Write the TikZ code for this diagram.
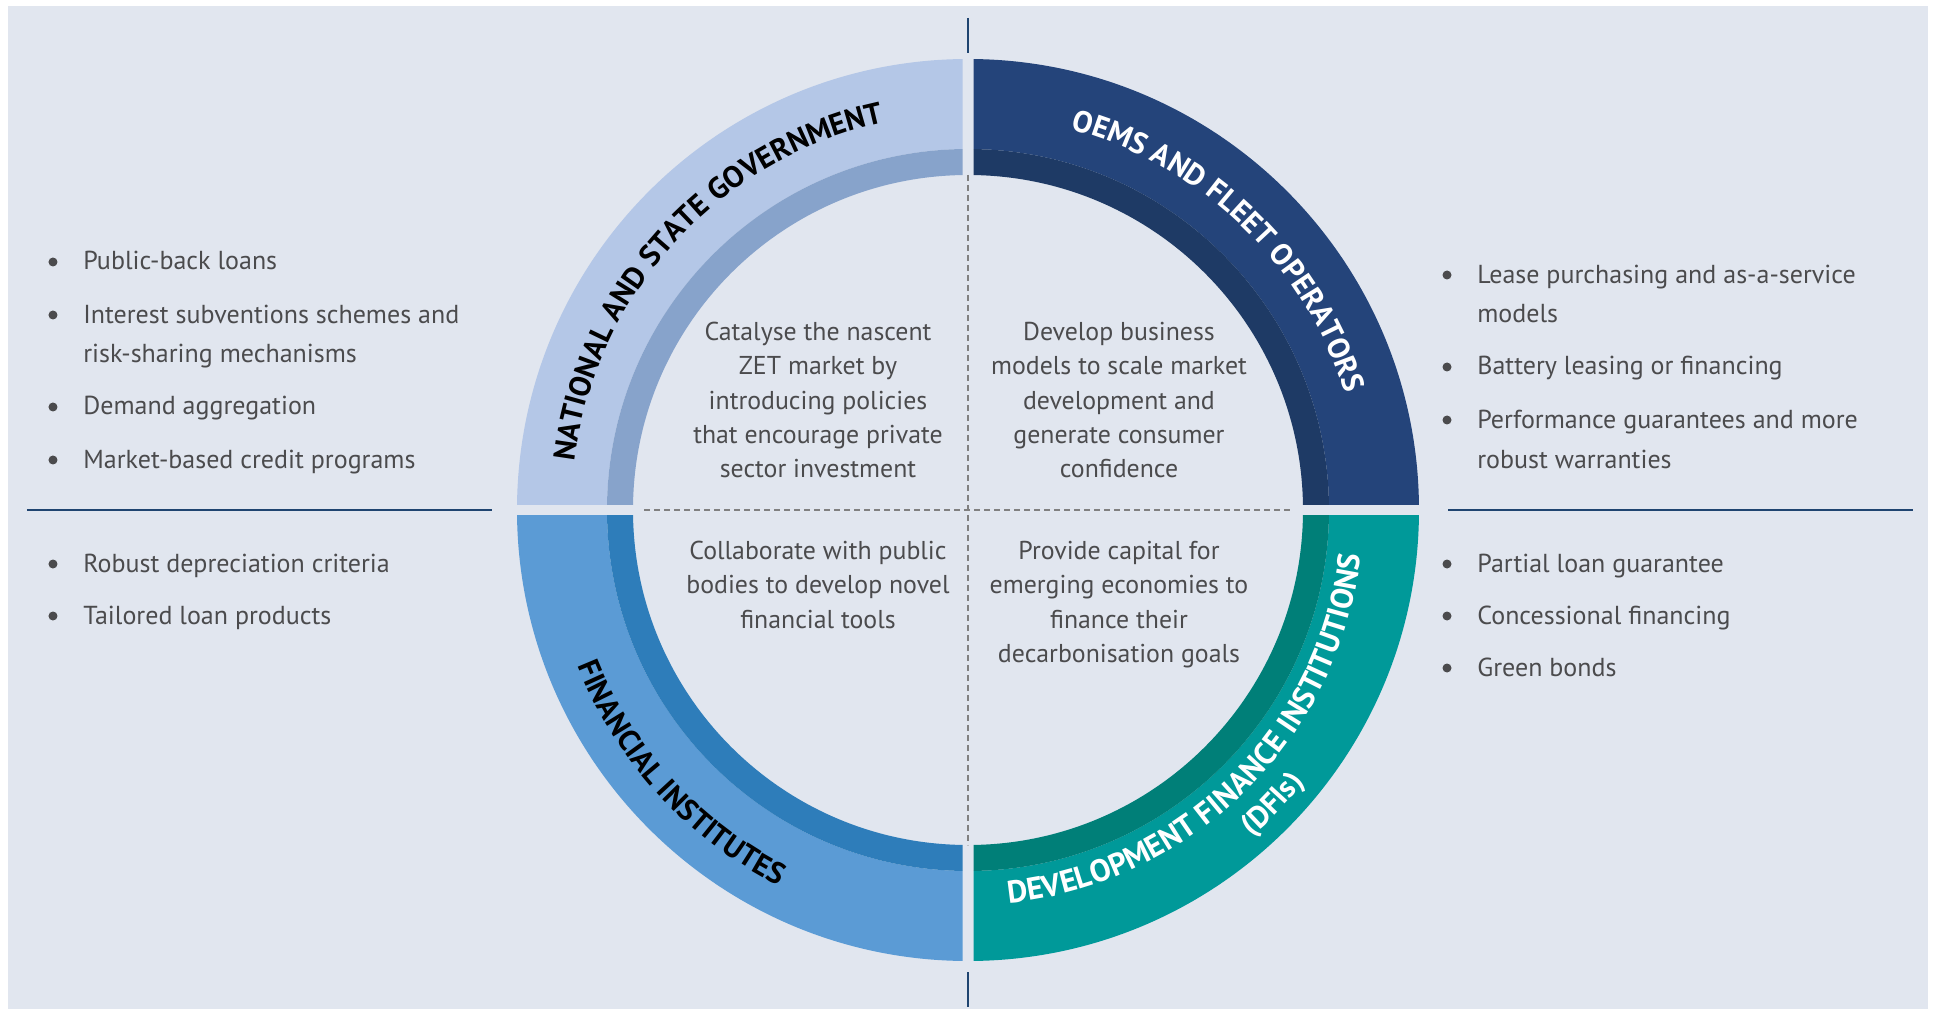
\documentclass[tikz,border=0pt]{standalone}
\usepackage{fontspec}
\setmainfont{PT Sans}
\usepackage{tikz}
\usetikzlibrary{decorations.text}
\definecolor{bg}{HTML}{E1E6EF}
\definecolor{ink}{HTML}{4B4B4D}
\definecolor{navy}{HTML}{1F4470}
\definecolor{dashgray}{HTML}{808080}
\definecolor{govOut}{HTML}{B4C7E7}
\definecolor{govIn}{HTML}{87A3CB}
\definecolor{oemOut}{HTML}{24447A}
\definecolor{oemIn}{HTML}{1E3A65}
\definecolor{finOut}{HTML}{5B9BD5}
\definecolor{finIn}{HTML}{2E7DBA}
\definecolor{dfiOut}{HTML}{009999}
\definecolor{dfiIn}{HTML}{007F78}
\newcommand{\bodyfont}{\fontsize{14.8}{22.76}\selectfont}
\newcommand{\midfont}{\fontsize{14.7}{19.63}\selectfont}
\newcommand{\ringfont}{\fontsize{17.2}{18}\selectfont\bfseries}
\newcommand{\dfifont}{\fontsize{17.8}{18}\selectfont\bfseries}
\tikzset{
  item/.style={font=\bodyfont, text=ink, align=left, inner sep=0pt, anchor=base west},
  dot/.style={circle, fill=ink, inner sep=0pt, minimum size=0.18cm},
  midtext/.style={font=\midfont, text=ink, align=center, inner sep=0pt, anchor=base},
  rulebar/.style={navy, line width=1.4pt},
  tick/.style={navy, line width=1.7pt},
  divider/.style={dashgray, line width=0.85pt, dash pattern=on 0.12cm off 0.08cm},
  ringlabel/.style={decorate, decoration={text along path, text align=center, text color=#1}}
}

\begin{document}
\begin{tikzpicture}[x=1cm, y=1cm]
  \useasboundingbox (-19.36,-9.98) rectangle (19.30,10.20);
  \fill[bg] (-19.20,-9.98) rectangle (19.20,10.08);

  % ring quadrants
  \foreach \sx/\sy/\co/\ci in {-1/1/govOut/govIn, 1/1/oemOut/oemIn, -1/-1/finOut/finIn, 1/-1/dfiOut/dfiIn}{
    \begin{scope}
      \clip (\sx*0.11,\sy*0.11) rectangle (\sx*9.6,\sy*9.6);
      \fill[\co, even odd rule] (0,0) circle (9.02) (0,0) circle (7.22);
      \fill[\ci, even odd rule] (0,0) circle (7.22) (0,0) circle (6.70);
    \end{scope}}

  % dividers inside the ring
  \coordinate (dtop) at (0,6.70);
  \coordinate (dbot) at (0,-6.70);
  \coordinate (dleft) at (-6.47,0);
  \coordinate (dright) at (6.48,0);
  \draw[divider] (dtop) -- (dbot);
  \draw[divider] (dleft) -- (dright);

  % ticks and side rules
  \coordinate (ttop) at (0,9.84);
  \coordinate (tbot) at (0,9.14);
  \coordinate (btop) at (0,-9.24);
  \coordinate (bbot) at (0,-9.94);
  \draw[tick] (ttop) -- (tbot);
  \draw[tick] (btop) -- (bbot);
  \coordinate (lr1) at (-18.82,0);
  \coordinate (lr2) at (-9.52,0);
  \coordinate (rr1) at (9.60,0);
  \coordinate (rr2) at (18.90,0);
  \draw[rulebar] (lr1) -- (lr2);
  \draw[rulebar] (rr1) -- (rr2);

  % ring labels
  \path[ringlabel=black, decoration={text={|\ringfont|NATIONAL AND STATE GOVERNMENT}}]
    (187.6:7.93) arc[start angle=187.6, end angle=87.6, radius=7.93];
  \path[ringlabel=white, decoration={text={|\ringfont|OEMS AND FLEET OPERATORS}}]
    (96:7.89) arc[start angle=96, end angle=-4, radius=7.89];
  \path[ringlabel=black, decoration={text={|\ringfont|FINANCIAL INSTITUTES}}]
    (172.5:8.41) arc[start angle=172.5, end angle=272.5, radius=8.41];
  \path[ringlabel=white, decoration={text={|\dfifont|DEVELOPMENT FINANCE INSTITUTIONS}}]
    (264.7:7.91) arc[start angle=264.7, end angle=364.7, radius=7.91];
  \path[ringlabel=white, decoration={text={|\ringfont|(DFIs)}}]
    (266:8.65) arc[start angle=266, end angle=366, radius=8.65];

  % quadrant texts (anchored at the last line)
  \node[midtext] (gov) at (-3.0,0.64) {Catalyse the nascent\\ZET market by\\introducing policies\\that encourage private\\sector investment};
  \node[midtext] (oem) at (3.02,0.64) {Develop business\\models to scale market\\development and\\generate consumer\\confidence};
  \node[midtext] (fin) at (-3.0,-2.36) {Collaborate with public\\bodies to develop novel\\financial tools};
  \node[midtext] (dfi) at (3.02,-3.05) {Provide capital for\\emerging economies to\\finance their\\decarbonisation goals};

  % left bullets: dot height / last baseline / text
  \foreach \n/\yd/\yb/\txt in {1/4.96/4.80/{Public-back loans},
      2/3.90/2.94/{Interest subventions schemes and\\risk-sharing mechanisms},
      3/2.06/1.90/{Demand aggregation}, 4/1.00/0.84/{Market-based credit programs},
      5/-1.08/-1.24/{Robust depreciation criteria}, 6/-2.12/-2.28/{Tailored loan products}}{
    \node[dot] (ld\n) at (-18.30,\yd) {};
    \node[item] (l\n) at (-17.70,\yb) {\txt};}

  % right bullets
  \foreach \n/\yd/\yb/\txt in {1/4.70/3.74/{Lease purchasing and as-a-service\\models},
      2/2.86/2.70/{Battery leasing or financing},
      3/1.80/0.84/{Performance guarantees and more\\robust warranties},
      4/-1.08/-1.24/{Partial loan guarantee}, 5/-2.12/-2.28/{Concessional financing},
      6/-3.16/-3.32/{Green bonds}}{
    \node[dot] (rd\n) at (9.58,\yd) {};
    \node[item] (r\n) at (10.18,\yb) {\txt};}
\end{tikzpicture}
\end{document}
